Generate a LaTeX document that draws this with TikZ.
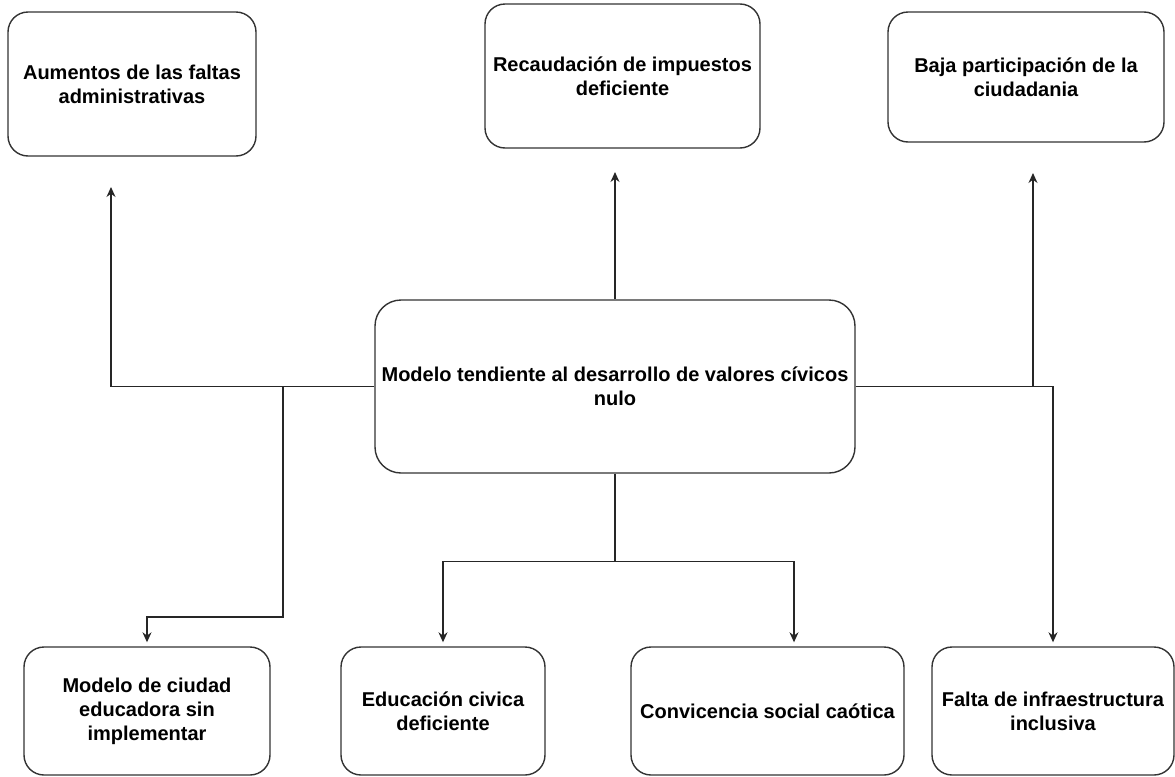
\documentclass[tikz,border=0pt]{standalone}
\usepackage{fontspec}
\setmainfont{Liberation Sans}
\usetikzlibrary{arrows.meta, positioning, calc}

\begin{document}
\begin{tikzpicture}[
        x=0.5pt, y=-0.5pt,
        font=\bfseries\fontsize{10}{12}\selectfont,
        caja/.style={draw=black!80, line width=0.7pt, rounded corners=10pt, align=center, inner sep=0pt},
        flecha/.style={-{Stealth[length=5pt, width=4.5pt]}, line width=0.6pt, draw=black!85},
        linea/.style={line width=0.6pt, draw=black!85}
    ]
        \useasboundingbox (0,0) rectangle (1175,777);

        % problema central
        \node[caja, rounded corners=13pt, minimum width=240pt, minimum height=86.5pt] (modelo) at (615,386.5) {Modelo tendiente al desarrollo de valores cívicos\\nulo};

        % efectos (arriba)
        \node[caja, minimum width=124pt, minimum height=72pt] (faltas) at (132,84) {Aumentos de las faltas\\administrativas};
        \node[caja, minimum width=137.5pt, minimum height=72pt] (recaud) at (622.5,76) {Recaudación de impuestos\\deficiente};
        \node[caja, minimum width=138pt, minimum height=65pt] (baja) at (1026,77) {Baja participación de la\\ciudadania};

        % causas (abajo)
        \node[caja, minimum width=123pt, minimum height=64pt] (ciudad) at (147,711) {Modelo de ciudad\\educadora sin\\implementar};
        \node[caja, minimum width=102pt, minimum height=64pt] (educ) at (443,711) {Educación civica\\deficiente};
        \node[caja, minimum width=136.5pt, minimum height=64pt] (conv) at (767.5,711) {Convicencia social caótica};
        \node[caja, minimum width=121pt, minimum height=64pt] (falta) at (1053,711) {Falta de infraestructura\\inclusiva};

        % puntos libres
        \coordinate (tfaltas) at (111,187);
        \coordinate (trecaud) at (615,172);
        \coordinate (tbaja) at (1033,173);
        \coordinate (izq) at (283,386.5);
        \coordinate (bif) at ($(modelo.south)+(0,88)$);

        \draw[flecha] (modelo.west) -| (tfaltas);
        \draw[flecha] (modelo.north) -- (trecaud);
        \draw[flecha] (modelo.east) -| (tbaja);
        \draw[flecha, shorten >=2pt] (modelo.east) -| (falta.north);
        \draw[flecha, shorten >=2pt] (izq) -- ++(0,230.5) -| (ciudad.north);
        \draw[linea] (modelo.south) -- (bif);
        \draw[flecha, shorten >=2pt] (bif) -| (educ.north);
        \draw[flecha, shorten >=2pt] (bif) -| ($(conv.north)+(26.5,0)$);
    \end{tikzpicture}
\end{document}
